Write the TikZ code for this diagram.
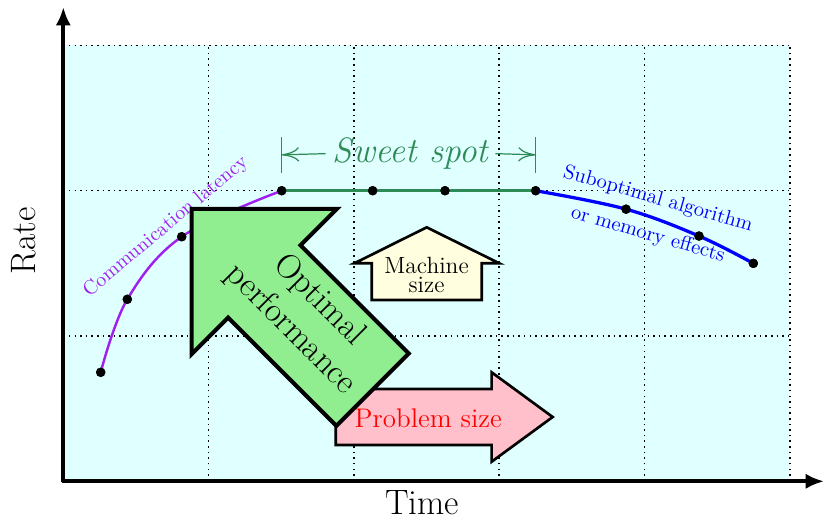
\documentclass[tikz,border=0pt]{standalone}
\usetikzlibrary{arrows.meta,calc}
\definecolor{bgcyan}{RGB}{224,255,255}
\definecolor{optgreen}{RGB}{144,238,144}
\definecolor{machyellow}{RGB}{255,255,224}
\definecolor{probpink}{RGB}{255,192,203}
\definecolor{commpurple}{RGB}{160,32,240}
\definecolor{sweetgreen}{RGB}{46,139,87}
\begin{document}
\begin{tikzpicture}[x=2.5cm,y=2.5cm,
  axisline/.style={line width=2pt,-{Latex[length=9pt,width=7.5pt]}},
  gridline/.style={line width=0.75pt,dash pattern=on 0.75pt off 2pt},
  dot/.style={circle,fill=black,inner sep=0pt,minimum size=4.6pt},
  bigarrow/.style={draw=black,line width=2pt,fill=optgreen},
  smallarrow/.style={draw=black,line width=1.3pt},
  sweetline/.style={draw=sweetgreen,line width=0.6pt},
  sweettip/.style={sweetline,-{To[length=8.5pt,width=7pt]}}]
\useasboundingbox (-0.4357,-0.2663) rectangle (5.2423,3.3125);
% background and grid
\fill[bgcyan] (0,0) rectangle (5,3);
\draw[gridline,step=2.5cm] (0,0) grid (5,3);
% data points
\node[dot] (p1) at (0.2574,0.7502) {};
\node[dot] (p2) at (0.4405,1.2526) {};
\node[dot] (p3) at (0.8149,1.6834) {};
\node[dot] (p4) at (1.503,2.0) {};
\node[dot] (g2) at (2.129,2.0) {};
\node[dot] (g3) at (2.627,2.0) {};
\node[dot] (g4) at (3.251,2.0) {};
\node[dot] (b2) at (3.873,1.873) {};
\node[dot] (b3) at (4.375,1.688) {};
\node[dot] (b4) at (4.749,1.5) {};
% curves
\draw[commpurple,line width=1.2pt] plot[smooth,tension=0.6] coordinates {(p1.center) (p2.center) (p3.center) (p4.center)};
\draw[sweetgreen,line width=1.3pt] (p4.center) -- (g2.center) -- (g3.center) -- (g4.center);
\draw[blue,line width=1.6pt] plot[smooth,tension=0.6] coordinates {(g4.center) (b2.center) (b3.center) (b4.center)};
\foreach \n in {p1,p2,p3,p4,g2,g3,g4,b2,b3,b4} \node[dot] at (\n) {};
% labels of curves
\node[commpurple,rotate=40,font=\fontsize{9.8}{11}\selectfont] (commlab) at (0.7054,1.752) {Communication latency};
\node[blue,rotate=-16,align=center,font=\fontsize{10}{12}\selectfont] (sublab) at (4.058,1.819) {Suboptimal algorithm\\[6pt]or memory effects};
% sweet spot
\node[sweetgreen,font=\LARGE\itshape] (sweet) at (2.39,2.255) {Sweet spot};
\coordinate (ssL) at (1.503,2.247);
\coordinate (ssR) at (3.251,2.247);
\draw[sweetline] ($(ssL)+(0,-0.123)$) -- ($(ssL)+(0,0.123)$);
\draw[sweetline] ($(ssR)+(0,-0.123)$) -- ($(ssR)+(0,0.123)$);
\draw[sweettip] (sweet.west) -- (ssL);
\draw[sweettip] (sweet.east) -- (ssR);
% machine size arrow
\draw[smallarrow,fill=machyellow] (2.501,1.748) -- (3.0007,1.5003) -- (2.8796,1.5003) -- (2.8796,1.2478) -- (2.1225,1.2478) -- (2.1225,1.5003) -- (2.0028,1.5003) -- cycle;
\node[align=center,font=\fontsize{11.5}{9.5}\selectfont] (machlab) at (2.5,1.42) {Machine\\size};
% problem size arrow
\draw[smallarrow,fill=probpink] (1.8747,0.2498) -- (2.948,0.2498) -- (2.948,0.1349) -- (3.368,0.4425) -- (2.948,0.7501) -- (2.948,0.6352) -- (1.8747,0.6352) -- cycle;
\node[red,font=\fontsize{13.2}{16}\selectfont] (problab) at (2.512,0.432) {Problem size};
% optimal performance arrow
\begin{scope}[shift={(0.8837,1.8754)},rotate=-45]
\draw[bigarrow] (0,0) -- (0.707,0.707) -- (0.707,0.352) -- (1.76,0.352) -- (1.76,-0.352) -- (0.707,-0.352) -- (0.707,-0.707) -- cycle;
\node[rotate=-45,align=center,font=\fontsize{16.8}{20}\selectfont] (optlab) at (1.066,0.035) {Optimal\\performance};
\end{scope}
% axes
\coordinate (origin) at (0,0);
\coordinate (xend) at (5.236,0);
\coordinate (yend) at (0,3.264);
\draw[axisline] (-0.007,0) -- (xend);
\draw[axisline] (0,-0.007) -- (yend);
\node[font=\LARGE] (timelab) at (2.47,-0.15) {Time};
\node[font=\LARGE,rotate=90] (ratelab) at (-0.275,1.655) {Rate};
\end{tikzpicture}
\end{document}
